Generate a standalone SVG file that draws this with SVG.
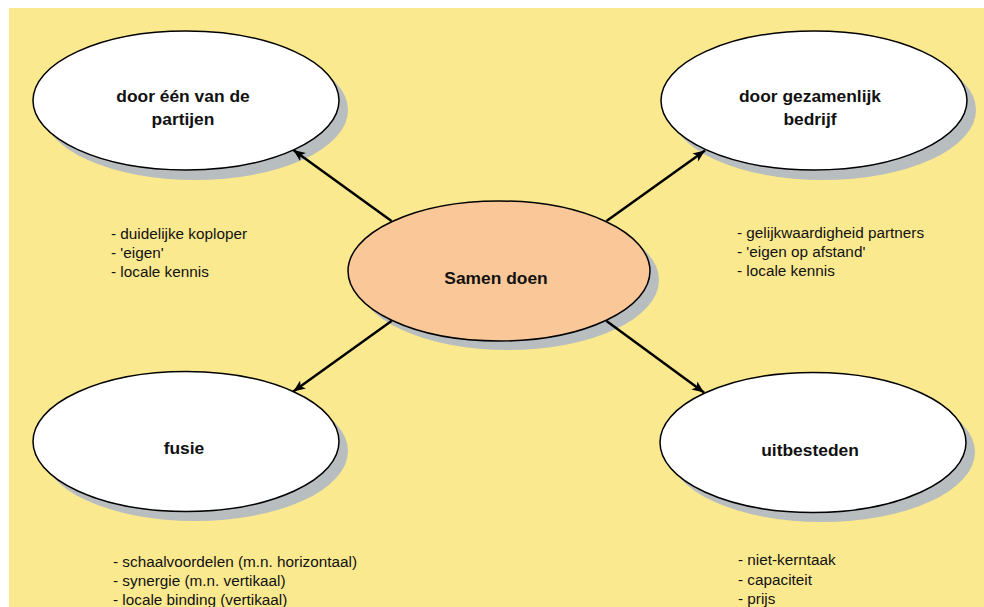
<svg xmlns="http://www.w3.org/2000/svg" width="984" height="607" viewBox="0 0 984 607">
<defs>
<style>
.bg{fill:#FBE98F}
.sh{fill:#B8BDBF}
.node{fill:#FFFFFF;stroke:#000;stroke-width:1.5}
.center{fill:#FAC898;stroke:#000;stroke-width:1.5}
.title{font-family:"Liberation Sans",Arial,sans-serif;font-weight:bold;font-size:17.4px;fill:#111;text-anchor:middle}
.list{font-family:"Liberation Sans",Arial,sans-serif;font-size:15.3px;fill:#111}
.conn{stroke:#000;stroke-width:2.5;fill:none;marker-end:url(#arr)}
</style>
<marker id="arr" markerUnits="userSpaceOnUse" markerWidth="14" markerHeight="12" refX="12" refY="5" orient="auto">
<path d="M0,0 L12,5 L0,10 L3,5 z" fill="#000"/>
</marker>
</defs>
<rect class="bg" x="9" y="8" width="975" height="599"/>

<g id="shadows">
<ellipse class="sh" cx="195" cy="110" rx="153" ry="70"/>
<ellipse class="sh" cx="823" cy="110" rx="153" ry="70"/>
<ellipse class="sh" cx="508" cy="280" rx="151" ry="70"/>
<ellipse class="sh" cx="195" cy="451" rx="153" ry="70"/>
<ellipse class="sh" cx="822" cy="452" rx="153" ry="70"/>
</g>

<g id="connectors">
<line class="conn" x1="391.5" y1="221" x2="293.3" y2="150"/>
<line class="conn" x1="606.5" y1="221" x2="705" y2="150.5"/>
<line class="conn" x1="391.5" y1="321" x2="293.3" y2="391.5"/>
<line class="conn" x1="606.5" y1="321" x2="704" y2="392.5"/>
</g>

<g id="node-partijen">
<ellipse class="node" cx="186" cy="100.5" rx="153" ry="69.5"/>
<text class="title" x="183" y="102">door één van de</text>
<text class="title" x="183" y="125">partijen</text>
</g>

<g id="node-gezamenlijk">
<ellipse class="node" cx="814" cy="100.5" rx="153" ry="69.5"/>
<text class="title" x="810" y="102">door gezamenlijk</text>
<text class="title" x="810" y="125">bedrijf</text>
</g>

<g id="node-samen">
<ellipse class="center" cx="499" cy="271" rx="151" ry="70"/>
<text class="title" x="496" y="284">Samen doen</text>
</g>

<g id="node-fusie">
<ellipse class="node" cx="186" cy="441.5" rx="153" ry="70"/>
<text class="title" x="184" y="454">fusie</text>
</g>

<g id="node-uitbesteden">
<ellipse class="node" cx="813" cy="442.5" rx="153" ry="70"/>
<text class="title" x="810" y="456">uitbesteden</text>
</g>

<g id="list-partijen">
<text class="list" x="111" y="238.5">- duidelijke koploper</text>
<text class="list" x="111" y="257.5">- 'eigen'</text>
<text class="list" x="111" y="276.5">- locale kennis</text>
</g>
<g id="list-gezamenlijk">
<text class="list" x="737" y="237.5">- gelijkwaardigheid partners</text>
<text class="list" x="737" y="256.5">- 'eigen op afstand'</text>
<text class="list" x="737" y="275.5">- locale kennis</text>
</g>
<g id="list-fusie">
<text class="list" x="113" y="566.5">- schaalvoordelen (m.n. horizontaal)</text>
<text class="list" x="113" y="585.5">- synergie (m.n. vertikaal)</text>
<text class="list" x="113" y="604.5">- locale binding (vertikaal)</text>
</g>
<g id="list-uitbesteden">
<text class="list" x="738" y="565">- niet-kerntaak</text>
<text class="list" x="738" y="584.5">- capaciteit</text>
<text class="list" x="738" y="604">- prijs</text>
</g>
</svg>
